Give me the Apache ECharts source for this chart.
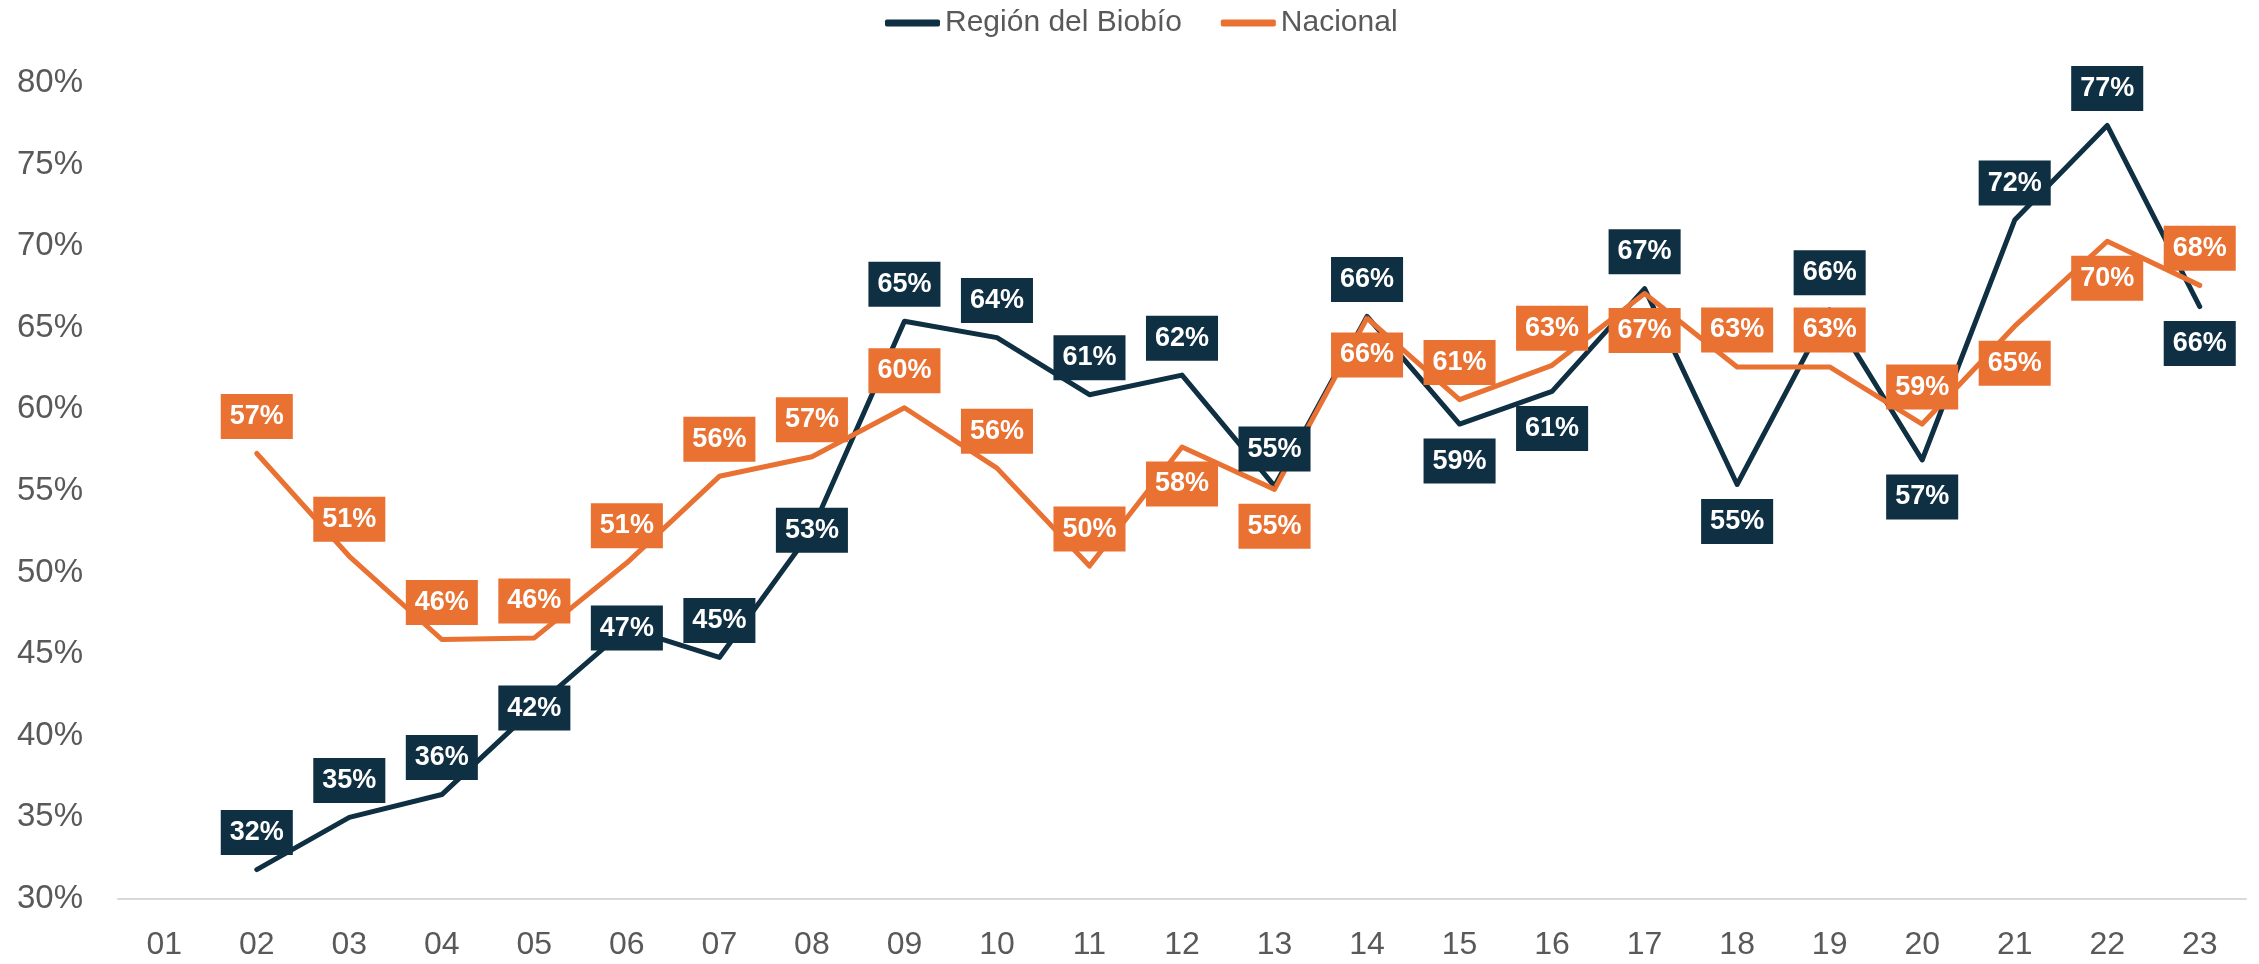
<!DOCTYPE html>
<html>
<head>
<meta charset="utf-8">
<title>Región del Biobío vs Nacional</title>
<script src="https://cdn.jsdelivr.net/npm/echarts@6/dist/echarts.min.js"></script>
<style>
  html, body { margin: 0; padding: 0; background: #ffffff; }
  #chart { width: 2259px; height: 964px; }
</style>
</head>
<body>
<div id="chart"></div>
<script>
// categorías (años)
var years = ['01', '02', '03', '04', '05', '06', '07', '08', '09', '10', '11', '12',
             '13', '14', '15', '16', '17', '18', '19', '20', '21', '22', '23'];

// valores en %
var biobio = [null, 31.8, 35.0, 36.4, 41.7, 46.6, 44.8, 52.6, 65.4, 64.4, 60.9, 62.1,
              55.3, 65.7, 59.1, 61.1, 67.4, 55.4, 66.1, 56.9, 71.6, 77.4, 66.3];
var nacional = [null, 57.3, 51.0, 45.9, 46.0, 50.6, 55.9, 57.1, 60.1, 56.4, 50.4, 57.7,
                55.1, 65.6, 60.6, 62.7, 67.1, 62.6, 62.6, 59.1, 65.1, 70.3, 67.6];

// ejes
var yTicks = [30, 35, 40, 45, 50, 55, 60, 65, 70, 75, 80];

// ubicación de etiquetas (t = arriba, b = abajo, c = centro)
var biobioPos = ['t', 't', 't', 't', 'c', 'c', 't', 'c', 't', 't', 't', 't',
                 't', 't', 'b', 'b', 't', 'b', 't', 'b', 't', 't', 'b'];
var nacionalPos = ['t', 't', 't', 't', 't', 't', 't', 't', 't', 't', 't', 'b',
                   'b', 'b', 't', 't', 'b', 't', 't', 't', 'b', 'b', 't'];

var DARK = '#0F2F42';
var ORANGE = '#E97132';
var GREY = '#595959';
var FONT = '"Liberation Sans", Arial, sans-serif';

function buildData(values, pos) {
  var map = { t: 'top', b: 'bottom', c: 'inside' };
  return values.map(function (v, i) {
    return { value: v, label: { position: map[pos[i]] } };
  });
}

function makeSeries(name, values, pos, color) {
  return {
    name: name,
    type: 'line',
    data: buildData(values, pos),
    symbol: 'circle',
    symbolSize: 1,
    lineStyle: { color: color, width: 5, cap: 'round', join: 'round' },
    itemStyle: { color: color },
    label: {
      show: true,
      distance: 14,
      formatter: function (p) { return Math.round(p.value) + '%'; },
      color: '#ffffff',
      fontFamily: FONT,
      fontWeight: 'bold',
      fontSize: 27,
      lineHeight: 27,
      backgroundColor: color,
      padding: [9, 9]
    },
    emphasis: { disabled: true },
    animation: false
  };
}

var chart = echarts.init(document.getElementById('chart'));
chart.setOption({
  backgroundColor: '#ffffff',
  animation: false,
  legend: {
    top: 3,
    left: 880,
    itemWidth: 55,
    itemHeight: 7,
    itemGap: 39,
    icon: 'roundRect',
    textStyle: { color: GREY, fontSize: 30, fontFamily: FONT },
    data: ['Región del Biobío', 'Nacional']
  },
  grid: { left: 118, right: 13, top: 83, bottom: 65, containLabel: false },
  xAxis: {
    type: 'category',
    data: years,
    boundaryGap: true,
    axisLine: { lineStyle: { color: '#D9D9D9', width: 2 } },
    axisTick: { show: false },
    axisLabel: { color: GREY, fontSize: 32, fontFamily: FONT, margin: 30 }
  },
  yAxis: {
    type: 'value',
    min: yTicks[0],
    max: yTicks[yTicks.length - 1],
    interval: 5,
    axisLine: { show: false },
    axisTick: { show: false },
    splitLine: { show: false },
    axisLabel: { color: GREY, fontSize: 33, fontFamily: FONT, margin: 35, formatter: '{value}%' }
  },
  series: [
    makeSeries('Región del Biobío', biobio, biobioPos, DARK),
    makeSeries('Nacional', nacional, nacionalPos, ORANGE)
  ]
});
</script>
</body>
</html>
